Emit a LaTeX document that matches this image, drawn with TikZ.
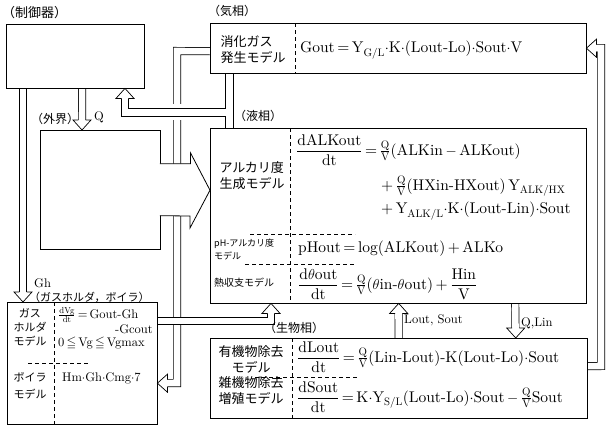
\documentclass[tikz,border=0pt]{standalone}
\usepackage{amsmath}
\usepackage{amssymb}
\usepackage{fontspec}
\newfontfamily\jp{Noto Sans CJK JP}
\newfontfamily\eqfont{lmroman10-regular}[Extension=.otf]
\usepackage{tikz}
\usetikzlibrary{positioning}
\newcommand{\mdot}{\ensuremath{{\cdot}}}

\begin{document}
\begin{tikzpicture}[x=1pt, y=-1pt,
  box/.style={anchor=north west, inner sep=0pt},
  frame/.style={line width=0.8pt},
  divider/.style={line width=0.7pt, dash pattern=on 4pt off 3pt},
  pipe/.style={double, double distance=6.6pt, line width=0.7pt, line join=miter},
  wire/.style={line width=0.7pt},
  sect/.style={font=\jp\fontsize{12}{14}\selectfont, inner sep=1pt},
  mname/.style={font=\jp\fontsize{13}{16}\selectfont, inner sep=0pt, align=left},
  hname/.style={font=\jp\fontsize{11}{14}\selectfont, inner sep=0pt, align=center},
  eq/.style={font=\eqfont\fontsize{15.5}{18}\selectfont, inner sep=0pt, anchor=west},
  eqs/.style={font=\eqfont\fontsize{12.5}{14}\selectfont, inner sep=0pt, anchor=west},
  pics/hhead/.style={code={
    \draw[line width=0.7pt, fill=white, line join=miter]
      (-10,3.7) -- (-10,9) -- (0,0) -- (-10,-9) -- (-10,-3.7);}}
]
\useasboundingbox (0,0) rectangle (606,426);

% blocks
\node[box, minimum width=138pt, minimum height=64pt] (ctrl) at (6,24) {};
\node[box, minimum width=120pt, minimum height=119pt] (outer) at (40,130) {};
\node[box, minimum width=376pt, minimum height=50pt] (gasbox) at (210,23) {};
\node[box, minimum width=376pt, minimum height=175pt] (liqbox) at (210,128) {};
\node[box, minimum width=377pt, minimum height=80pt] (biobox) at (210,338) {};
\node[box, minimum width=150pt, minimum height=122pt] (holder) at (7,302) {};

% gas to holder / boiler
\draw[pipe] ([yshift=-3pt]gasbox.west) -- (177,51) -- (177,383) -- (167,383);
\pic[rotate=180] at ([yshift=-20pt]holder.east) {hhead};
% boiler heat to liquid
\draw[pipe] ([yshift=-19pt]holder.north east) -- (271,321) -- (271,313);
\pic[rotate=90] at ([xshift=61pt]liqbox.south west) {hhead};
% controller outputs
\draw[pipe] ([xshift=7pt]ctrl.south) -- (82,120);
\pic[rotate=-90] at ([xshift=42pt]outer.north west) {hhead};
\draw[pipe] ([xshift=17pt]ctrl.south west) -- (23,292);
\pic[rotate=-90] at ([xshift=16pt]holder.north west) {hhead};
% liquid <-> bio
\draw[pipe] (biobox.north) -- (398.5,313);
\pic[rotate=90] at (biobox.north |- liqbox.south) {hhead};
\draw[pipe] ([xshift=117pt]liqbox.south) -- (515.5,328);
\pic[rotate=-90] at ([xshift=117pt]biobox.north) {hhead};
% bio to gas
\draw[pipe] ([yshift=12pt]biobox.east) -- (601,366) -- (601,48) -- (596,48);
\pic[rotate=180] at (gasbox.east) {hhead};

% measurements back to controller
\fill[white] (117,104) rectangle (224.6,120);
\draw[wire] (121.3,98) |- (225,116) -- ([xshift=15pt]liqbox.north west);
\draw[wire] (128.7,98) |- (225,108) -- ([xshift=15pt]gasbox.south west);
\draw[wire] ([xshift=23pt]gasbox.south west) -- ([xshift=23pt]liqbox.north west);
\pic[rotate=90] at ([xshift=119pt]ctrl.south west) {hhead};

\foreach \b in {ctrl,outer,gasbox,liqbox,biobox,holder}
  \draw[frame] (\b.north west) rectangle (\b.south east);

% outside world into liquid
\filldraw[fill=white, line width=0.8pt] ([xshift=-0.5pt, yshift=26pt]outer.east) -- ++(30.5,0) -- ++(0,-11)
  -- ([yshift=25.5pt]liqbox.west) -- (190,228) -- (190,216) -- ([xshift=-0.5pt, yshift=-26pt]outer.east);

% section labels
\node[sect, font=\jp\fontsize{13}{15}\selectfont, above right=4pt and -5pt of ctrl.north west] (ctrllbl) {（制御器）};
\node[sect, above right=4pt and -10pt of outer.north west] (outerlbl) {（外界）};
\node[sect, above right=5pt and -3pt of gasbox.north west] (gaslbl) {（気相）};
\node[sect, above right=5pt and 23pt of liqbox.north west] (liqlbl) {（液相）};
\node[sect, above right=3pt and 53pt of biobox.north west] (biolbl) {（生物相）};
\node[eqs] (qlbl) at (94,117) {Q};
\node[eqs] (ghlbl) at (34,283) {Gh};
\node[sect, anchor=west, font=\jp\fontsize{11}{13}\selectfont] (ghsub) at (28,297) {（ガスホルダ，ボイラ）};
\node[eqs] (lslbl) at (404,320) {Lout, Sout};
\node[eqs] (qllbl) at (521,323) {Q,Lin};

% gas phase
\draw[divider] ([xshift=85pt]gasbox.north west) -- ([xshift=85pt]gasbox.south west);
\node[mname] (gasname) at (253,50) {消化ガス\\発生モデル};
\node[eq] (gaseq) at (300,50) {Gout\,=\,Y\textsubscript{G/L}\mdot K\mdot(Lout-Lo)\mdot Sout\mdot V};

% liquid phase
\draw[divider] ([xshift=80pt]liqbox.north west) -- ([xshift=80pt]liqbox.south west);
\draw[divider] (250,234) -- (355,234);
\draw[divider] (245,264) -- (355,264);
\node[mname] (alkname) at (252,176) {アルカリ度\\生成モデル};
\node[eq] (alkeq1) at (296,150) {$\dfrac{\text{dALKout}}{\text{dt}}$\,=\,$\frac{\text{Q}}{\text{V}}$(ALKin\,$-$\,ALKout)};
\node[eq] (alkeq2) at (381,186) {+\,$\frac{\text{Q}}{\text{V}}$(HXin-HXout)\,Y\textsubscript{ALK/HX}};
\node[eq] (alkeq3) at (381,211) {+\,Y\textsubscript{ALK/L}\mdot K\mdot(Lout-Lin)\mdot Sout};
\node[mname, anchor=west, font=\jp\fontsize{9}{13}\selectfont] (phname) at (214,249) {pH-アルカリ度\\モデル};
\node[eq] (pheq) at (298,249) {pHout\,=\,log(ALKout)\,+\,ALKo};
\node[mname, anchor=west, font=\jp\fontsize{10}{12}\selectfont] (heatname) at (214,283) {熱収支モデル};
\node[eq] (heateq) at (298,284) {$\dfrac{\text{d}\theta\text{out}}{\text{dt}}$\,=\,$\frac{\text{Q}}{\text{V}}$($\theta$in-$\theta$out)\,+\,$\dfrac{\text{Hin}}{\text{V}}$};

% bio phase
\draw[divider] ([xshift=82pt]biobox.north west) -- ([xshift=82pt]biobox.south west);
\draw[divider] (255,377) -- (357,377);
\node[mname, align=center] (orgname) at (251,359) {有機物除去\\モデル};
\node[mname] (grwname) at (251,391) {雑機物除去\\増殖モデル};
\node[eq] (orgeq) at (297,357) {$\dfrac{\text{dLout}}{\text{dt}}$\,=\,$\frac{\text{Q}}{\text{V}}$(Lin-Lout)-K(Lout-Lo)\mdot Sout};
\node[eq] (grweq) at (297,397) {$\dfrac{\text{dSout}}{\text{dt}}$\,=\,K\mdot Y\textsubscript{S/L}(Lout-Lo)\mdot Sout\,$-$\,$\frac{\text{Q}}{\text{V}}$Sout};

% gas holder and boiler
\draw[divider] ([xshift=47pt]holder.north west) -- ([xshift=47pt]holder.south west);
\draw[divider] (28,363) -- (90,363);
\node[hname] (gholder) at (30,327) {ガス\\ホルダ\\モデル};
\node[hname, font=\jp\fontsize{11}{17}\selectfont] (boiler) at (30,386) {ボイラ\\モデル};
\node[eqs] (vgeq) at (58,315) {$\frac{\text{dVg}}{\text{dt}}$\,=\,Gout-Gh};
\node[eqs, anchor=east] (vgeq2) at (153,329) {-Gcout};
\node[eqs] (vgrange) at (58,343) {0\,$\leqq$\,Vg\,$\leqq$\,Vgmax};
\node[eqs] (hmeq) at (62,378) {Hm\mdot Gh\mdot Cmg\mdot 7};
\end{tikzpicture}
\end{document}
